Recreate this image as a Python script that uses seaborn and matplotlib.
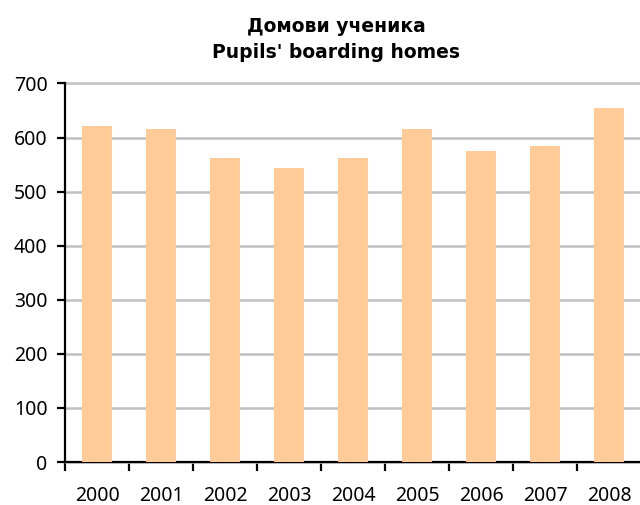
import matplotlib
matplotlib.use("Agg")
import matplotlib.pyplot as plt
import pandas as pd
import seaborn as sns

# Podaci: domovi ucenika, broj po godinama
years = ["2000", "2001", "2002", "2003", "2004", "2005", "2006", "2007", "2008"]
values = [621, 615, 563, 543, 562, 615, 575, 584, 654]

title_sr = "Домови ученика"
title_en = "Pupils' boarding homes"

sns.set_style("white")
plt.rcParams['font.family'] = ['Noto Sans', 'DejaVu Sans']
plt.rcParams['text.color'] = 'black'
plt.rcParams['xtick.color'] = 'black'
plt.rcParams['ytick.color'] = 'black'

df = pd.DataFrame({"year": years, "value": values})

fig = plt.figure(figsize=(6.4, 5.05), dpi=100)
ax = fig.add_axes([0.1016, 0.085, 0.9, 0.7497])

sns.barplot(data=df, x="year", y="value", color="#FFCC99", saturation=1,
            width=0.46, linewidth=0, ax=ax, zorder=3)

ax.set_ylim(0, 700)
ax.set_xlim(-0.5, len(years) - 0.5)
ax.set_yticks(range(0, 701, 100))
ax.yaxis.grid(True, color="#C0C0C0", linewidth=1.8, zorder=0)
for gl in ax.get_ygridlines():
    gl.set_clip_on(False)
ax.set_axisbelow(True)
ax.set_xlabel("")
ax.set_ylabel("")

for side in ["top", "right"]:
    ax.spines[side].set_visible(False)
for side in ["left", "bottom"]:
    ax.spines[side].set_color("black")
    ax.spines[side].set_linewidth(1.6)

# tick marks na granicama kategorija
ax.set_xticks([i - 0.5 for i in range(len(years))], minor=True)
ax.tick_params(axis="x", which="minor", bottom=True, length=6.5, width=1.6, direction="out")
ax.tick_params(axis="x", which="major", bottom=False, length=0, labelsize=14, pad=17)
ax.tick_params(axis="y", left=True, length=5.5, width=1.6, direction="out", labelsize=14, pad=7)

# naslov (podebljan)
fig.text(336 / 640, 1 - 27 / 505, title_sr, ha="center", va="center",
         fontsize=13.5, fontweight="bold", family="DejaVu Sans")
fig.text(336 / 640, 1 - 52 / 505, title_en, ha="center", va="center",
         fontsize=13.5, fontweight="bold", family="DejaVu Sans")

fig.savefig("out.png", dpi=100)
